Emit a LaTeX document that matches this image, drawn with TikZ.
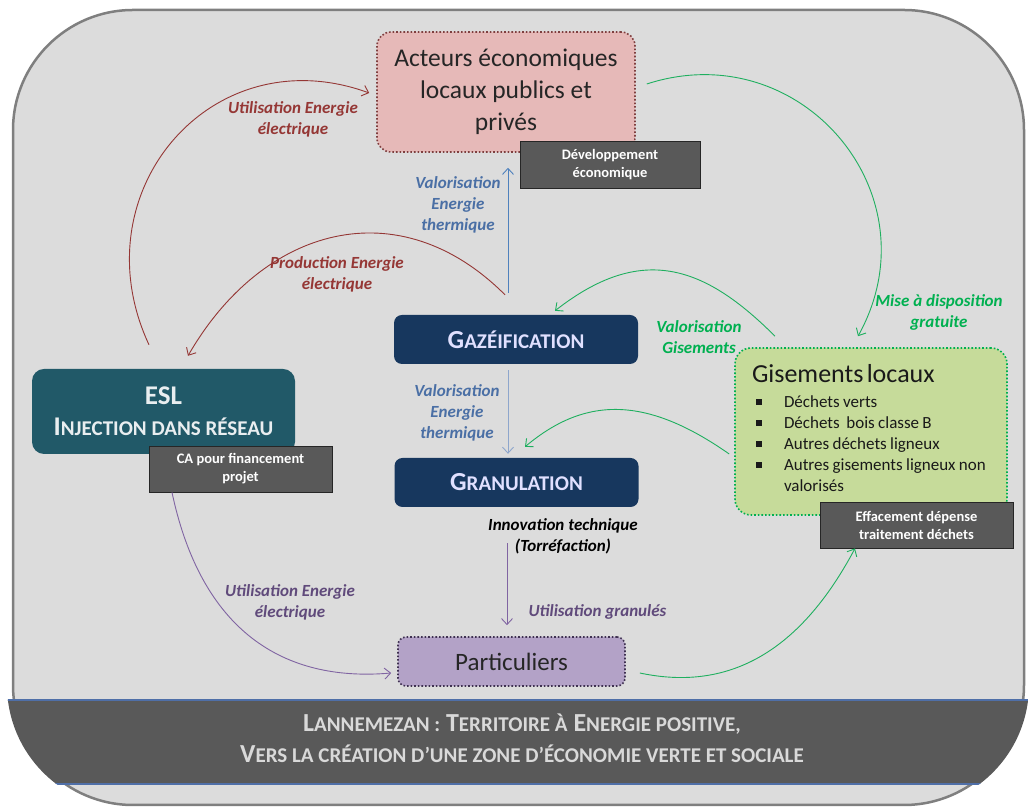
\documentclass[tikz,border=0pt]{standalone}
\usepackage{fontspec}
\setmainfont{Carlito}
\usepackage{xcolor}
\usetikzlibrary{arrows.meta}

\definecolor{bggray}{HTML}{DCDCDC}
\definecolor{framegray}{HTML}{7F7F7F}
\definecolor{darktag}{HTML}{595959}
\definecolor{actfill}{HTML}{E6B9B8}
\definecolor{actline}{HTML}{7F3F3F}
\definecolor{navy}{HTML}{17375E}
\definecolor{teal}{HTML}{215968}
\definecolor{gisfill}{HTML}{C6DB9A}
\definecolor{gisline}{HTML}{00B050}
\definecolor{partfill}{HTML}{B3A2C7}
\definecolor{partline}{HTML}{3F3151}
\definecolor{redlbl}{HTML}{953735}
\definecolor{bluelbl}{HTML}{4A6FA5}
\definecolor{bluearr}{HTML}{4F81BD}
\definecolor{bluelt}{HTML}{8EA6CC}
\definecolor{greenlbl}{HTML}{00B050}
\definecolor{greenarr}{HTML}{1FAF5F}
\definecolor{purplbl}{HTML}{604A7B}
\definecolor{purparr}{HTML}{8064A2}
\definecolor{bannerline}{HTML}{4F6FA8}

% fake small capitals
\newcommand\petitcap[2][21]{{\fontsize{#1}{#1}\selectfont #2}}
\newcommand\carre{\raisebox{3pt}{\rule{5.5pt}{5.5pt}}}

\begin{document}
\begin{tikzpicture}[x=1pt,y=1pt,
  bigbox/.style={align=center, text=black!85, font=\fontsize{25.5}{32}\selectfont},
  process/.style={fill=navy, rounded corners=8pt, minimum width=244pt,
    minimum height=49pt, text=white!88!blue, font=\bfseries\fontsize{26}{30}\selectfont},
  tag/.style={fill=darktag, draw=black!85, line width=0.8pt, text=white,
    align=center, font=\bfseries\fontsize{14.5}{18}\selectfont},
  lbl/.style={align=center, font=\bfseries\itshape\fontsize{17}{21}\selectfont},
  arr/.style={-{Straight Barb[length=6pt,width=11pt]}, line width=0.9pt},
]
\useasboundingbox (0,0) rectangle (1029,808);

% frame and banner
\draw[line width=2.5pt, draw=framegray, fill=bggray, rounded corners=120pt]
  (13,3) rectangle (1024,798);
\begin{scope}
  \clip[rounded corners=124pt] (7,-1) rectangle (1029,802);
  \fill[darktag] (0,24) rectangle (1029,108);
  \draw[bannerline, line width=1.2pt] (0,108) -- (1029,108);
  \draw[bannerline, line width=1.2pt] (0,24) -- (1029,24);
\end{scope}
\node[align=center, text=white!85!black, font=\bfseries\fontsize{26}{31}\selectfont]
  (titre) at (522,69.5)
  {L\petitcap{ANNEMEZAN :} T\petitcap{ERRITOIRE À} E\petitcap{NERGIE POSITIVE,}\\
   V\petitcap{ERS LA CRÉATION D’UNE ZONE D’ÉCONOMIE VERTE ET SOCIALE}};

% main boxes
\node[bigbox, fill=actfill, draw=actline, line width=1.6pt, dotted, rounded corners=14pt,
  minimum width=258pt, minimum height=120pt] (acteurs) at (506,716)
  {Acteurs économiques\\locaux publics et\\privés};
\node[process] (gaz) at (516,468.5) {G\petitcap{AZÉIFICATION}};
\node[process] (gran) at (516.5,325.5) {G\petitcap{RANULATION}};
\node[fill=teal, rounded corners=12pt, minimum width=263pt, minimum height=85pt,
  align=center, text=white!90!teal, font=\bfseries\fontsize{27}{31}\selectfont]
  (esl) at (163.5,396.5) {ESL\\I\petitcap{NJECTION DANS RÉSEAU}};
\node[fill=gisfill, draw=gisline, line width=1.6pt, dotted, rounded corners=16pt,
  minimum height=167pt, text width=238pt, inner xsep=17pt, align=left, text=black!90]
  (gis) at (871,376.5)
  {{\fontsize{26}{28}\selectfont Gisements locaux}\\[9pt]
   \fontsize{17}{21}\selectfont
   \begin{tabular}[t]{@{\hspace{4pt}}p{28pt}@{}l@{}}
   \carre & Déchets verts\\
   \carre & Déchets~~bois classe B\\
   \carre & Autres déchets ligneux\\
   \carre & Autres gisements ligneux non\\
          & valorisés
   \end{tabular}};
\node[bigbox, fill=partfill, draw=partline, line width=1.6pt, dotted, rounded corners=8pt,
  minimum width=227pt, minimum height=49pt, font=\fontsize{25}{30}\selectfont]
  (part) at (511.5,146.5) {Particuliers};

% tags
\node[tag, minimum width=180pt, minimum height=47pt] (dev) at (610,643.5)
  {Développement\\économique};
\node[tag, minimum width=183pt, minimum height=46pt] (ca) at (240.5,339)
  {CA pour financement\\projet};
\node[tag, minimum width=193pt, minimum height=46pt] (eff) at (916.5,283)
  {Effacement dépense\\traitement déchets};

% labels
\node[lbl, text=redlbl] (utilelec) at (293,689) {Utilisation Energie\\électrique};
\node[lbl, text=bluelbl] (valoth) at (458,603) {Valorisation\\Energie\\thermique};
\node[lbl, text=redlbl] (prodelec) at (337,534) {Production Energie\\électrique};
\node[lbl, text=greenlbl] (misedispo) at (939,495.5) {Mise à disposition\\gratuite};
\node[lbl, text=greenlbl] (valogis) at (699,470.5) {Valorisation\\Gisements};
\node[lbl, text=bluelbl] (valoth2) at (457,395.5) {Valorisation\\Energie\\thermique};
\node[lbl, text=black] (innov) at (563,272) {Innovation technique\\(Torréfaction)};
\node[lbl, text=purplbl, anchor=west] (utilgran) at (525,196) {Utilisation granulés};
\node[lbl, text=purplbl] (utilelec2) at (290,205.5) {Utilisation Energie\\électrique};

% flows
\draw[arr, redlbl] ([xshift=-14.5pt,yshift=24pt]esl.north)
  to[out=115,in=160,distance=168pt] ([xshift=-7pt,yshift=-1pt]acteurs.west);
\draw[arr, redlbl] ([xshift=-11pt,yshift=20pt]gaz.north)
  to[out=135,in=60,distance=150pt] ([xshift=24.5pt,yshift=13pt]esl.north);
\draw[arr, bluearr] ([xshift=-8pt,yshift=22pt]gaz.north)
  -- ([xshift=2pt,yshift=-15pt]acteurs.south);
\draw[arr, greenarr] ([xshift=11pt,yshift=8pt]acteurs.east)
  to[out=18,in=61,distance=162pt] ([xshift=-13pt,yshift=11pt]gis.north);
\draw[arr, greenarr] ([xshift=-96pt,yshift=11pt]gis.north)
  to[out=135,in=38,out distance=100pt,in distance=110pt] ([xshift=39pt,yshift=4pt]gaz.north);
\draw[arr, greenarr] ([xshift=-5pt,yshift=-22.5pt]gis.west)
  to[out=145,in=40,out distance=100pt,in distance=80pt] ([xshift=8.5pt,yshift=11pt]gran.north);
\draw[arr, bluelt] ([xshift=-8pt,yshift=-6pt]gaz.south)
  -- ([xshift=-8.5pt,yshift=4pt]gran.north);
\draw[arr, purparr] ([xshift=-9.5pt,yshift=-36pt]gran.south)
  -- ([xshift=-4.5pt,yshift=11pt]part.north);
\draw[arr, purparr] ([xshift=-68.5pt]ca.south)
  to[out=-78,in=185,out distance=150pt,in distance=100pt] ([xshift=-6pt,yshift=-11.5pt]part.west);
\draw[arr, greenarr] ([xshift=14pt,yshift=-11.5pt]part.east)
  to[out=-12,in=-118,out distance=80pt,in distance=130pt] ([xshift=-61.5pt]eff.south);
\end{tikzpicture}
\end{document}
